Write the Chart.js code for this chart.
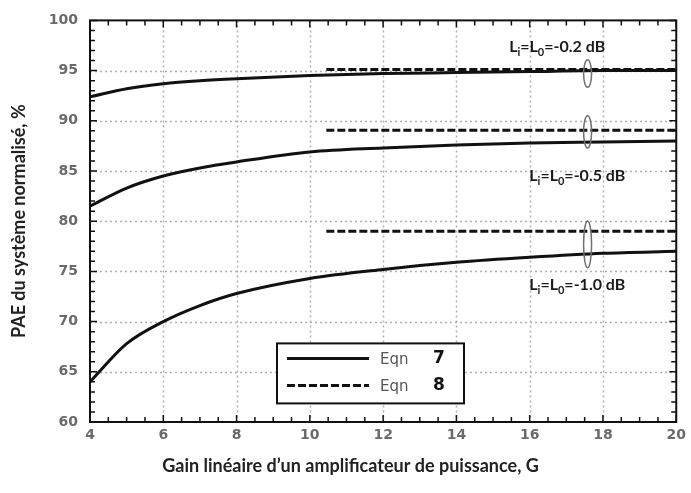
<!DOCTYPE html>
<html>
<head>
<meta charset="utf-8">
<script src="https://cdn.jsdelivr.net/npm/chart.js@4"></script>
<style>
  html, body { margin: 0; padding: 0; background: #fff; }
  #wrap { width: 691px; height: 493px; }
</style>
</head>
<body>
<div id="wrap"><canvas id="c"></canvas></div>
<script>
// ── Data ────────────────────────────────────────────────────────────
const G = [4, 5, 6, 7, 8, 10, 12, 14, 16, 18, 20];

// Eqn 7 (solid)
const eqn7_02 = [92.4, 93.2, 93.7, 94.0, 94.2, 94.5, 94.7, 94.8, 94.9, 95.0, 95.0];
const eqn7_05 = [81.5, 83.3, 84.5, 85.3, 85.9, 86.9, 87.3, 87.6, 87.8, 87.9, 88.0];
const eqn7_10 = [64.0, 67.8, 70.0, 71.6, 72.8, 74.3, 75.2, 75.9, 76.4, 76.8, 77.0];

// Eqn 8 (dashed, constant)
const G8 = [10.45, 20];
const eqn8_02 = [95.1, 95.1];
const eqn8_05 = [89.05, 89.05];
const eqn8_10 = [79.0, 79.0];

// Annotation labels
const LABEL_X = [16.75, 17.3, 17.3];
const LABEL_Y = [97.5, 84.6, 73.7];
const LABEL_TXT = ['-0.2 dB', '-0.5 dB', '-1.0 dB'];

// Ellipses grouping the pairs: centre G, centre PAE, half-height
const ELL_X = [17.58, 17.58, 17.58];
const ELL_Y = [94.7, 88.9, 77.7];
const ELL_H = [1.37, 1.6, 2.33];

const X_TICKS = [4, 6, 8, 10, 12, 14, 16, 18, 20];
const Y_TICKS = [60, 65, 70, 75, 80, 85, 90, 95, 100];

const X_TITLE = 'Gain linéaire d’un amplificateur de puissance, G';
const Y_TITLE = 'PAE du système normalisé, %';

// ── Style ───────────────────────────────────────────────────────────
const INK = '#111';
const GRID = '#b0b0b0';
const TICK_TXT = '#6a6a6a';
const TITLE_FONT = 'Lato, "Open Sans", sans-serif';
const TICK_FONT = '"DejaVu Sans", Verdana, sans-serif';
const DASH = [8, 3];

const pts = (xs, ys) => xs.map((x, i) => ({ x, y: ys[i] }));

function solid(data) {
  return { data, borderColor: INK, borderWidth: 3, pointRadius: 0, cubicInterpolationMode: 'monotone', fill: false };
}
function dashed(data) {
  return { data, borderColor: INK, borderWidth: 3, borderDash: DASH, pointRadius: 0, fill: false };
}

// ── Dotted grid (behind the curves) ─────────────────────────────────
const dottedGrid = {
  id: 'dottedGrid',
  beforeDatasetsDraw(chart) {
    const { ctx, chartArea: a, scales: { x, y } } = chart;
    ctx.save();
    ctx.strokeStyle = GRID;
    ctx.lineWidth = 1.5;
    ctx.setLineDash([2, 3]);
    ctx.beginPath();
    X_TICKS.slice(1, -1).forEach(v => {
      const px = Math.round(x.getPixelForValue(v)) + 0.5;
      ctx.moveTo(px, a.top); ctx.lineTo(px, a.bottom);
    });
    Y_TICKS.slice(1, -1).forEach(v => {
      const py = Math.round(y.getPixelForValue(v)) + 0.5;
      ctx.moveTo(a.left, py); ctx.lineTo(a.right, py);
    });
    ctx.stroke();
    ctx.restore();
  }
};

// ── Frame, minor ticks, annotations, legend, x title ────────────────
const decor = {
  id: 'decor',
  afterDatasetsDraw(chart) {
    const { ctx, chartArea: a, scales: { x, y } } = chart;
    ctx.save();

    // inner minor ticks on all four sides
    ctx.strokeStyle = INK;
    ctx.lineWidth = 1.5;
    ctx.beginPath();
    for (let v = 4; v <= 20.001; v += 0.5) {
      const px = x.getPixelForValue(v);
      const len = (v % 2 === 0) ? 7 : 5;
      ctx.moveTo(px, a.bottom); ctx.lineTo(px, a.bottom - len);
      ctx.moveTo(px, a.top); ctx.lineTo(px, a.top + len);
    }
    for (let v = 60; v <= 100; v += 1) {
      const py = y.getPixelForValue(v);
      const len = (v % 5 === 0) ? 7 : 5;
      ctx.moveTo(a.left, py); ctx.lineTo(a.left + len, py);
      ctx.moveTo(a.right, py); ctx.lineTo(a.right - len, py);
    }
    ctx.stroke();

    // frame
    ctx.lineWidth = 2;
    ctx.strokeRect(a.left, a.top, a.right - a.left, a.bottom - a.top);

    // ellipses
    ctx.strokeStyle = '#707070';
    ctx.lineWidth = 1.5;
    ELL_X.forEach((gx, i) => {
      const cx = x.getPixelForValue(gx);
      const cy = y.getPixelForValue(ELL_Y[i]);
      const ry = Math.abs(y.getPixelForValue(ELL_Y[i] + ELL_H[i]) - cy);
      ctx.beginPath();
      ctx.ellipse(cx, cy, 4, ry, 0, 0, Math.PI * 2);
      ctx.stroke();
    });

    // L_i = L_0 labels
    ctx.fillStyle = '#1a1a1a';
    ctx.textBaseline = 'alphabetic';
    ctx.textAlign = 'left';
    LABEL_X.forEach((gx, i) => {
      const big = 'bold 16px ' + TITLE_FONT;
      const small = 'bold 11px ' + TITLE_FONT;
      const parts = [['L', big, 0], ['i', small, 4], ['=L', big, 0], ['0', small, 4], ['=' + LABEL_TXT[i], big, 0]];
      let w = 0;
      parts.forEach(([t, f]) => { ctx.font = f; w += ctx.measureText(t).width; });
      let px = x.getPixelForValue(gx) - w / 2;
      const py = y.getPixelForValue(LABEL_Y[i]) + 6;
      parts.forEach(([t, f, dy]) => {
        ctx.font = f;
        ctx.fillText(t, px, py + dy);
        px += ctx.measureText(t).width;
      });
    });

    // legend box
    const lx = a.left + 187, ly = a.top + 323, lw = 187, lh = 60;
    ctx.fillStyle = '#fff';
    ctx.fillRect(lx, ly, lw, lh);
    ctx.strokeStyle = INK;
    ctx.lineWidth = 2;
    ctx.strokeRect(lx, ly, lw, lh);
    ctx.lineWidth = 3;
    ctx.setLineDash([]);
    ctx.beginPath(); ctx.moveTo(lx + 10, ly + 15); ctx.lineTo(lx + 92, ly + 15); ctx.stroke();
    ctx.setLineDash(DASH);
    ctx.beginPath(); ctx.moveTo(lx + 10, ly + 42); ctx.lineTo(lx + 92, ly + 42); ctx.stroke();
    ctx.setLineDash([]);
    ctx.textBaseline = 'middle';
    ['7', '8'].forEach((n, i) => {
      const ty = ly + 15 + i * 27;
      ctx.font = '15px ' + TICK_FONT;
      ctx.fillStyle = '#555';
      ctx.fillText('Eqn', lx + 103, ty + 2);
      ctx.font = 'bold 17px ' + TICK_FONT;
      ctx.fillStyle = '#111';
      ctx.fillText(n, lx + 156, ty);
    });

    // x axis title, centred on the page like the source figure
    ctx.font = 'bold 18px ' + TITLE_FONT;
    ctx.fillStyle = '#222';
    ctx.textAlign = 'center';
    ctx.textBaseline = 'middle';
    ctx.fillText(X_TITLE, chart.width / 2 + 5, a.bottom + 44);

    ctx.restore();
  }
};

new Chart(document.getElementById('c'), {
  type: 'line',
  data: {
    datasets: [
      solid(pts(G, eqn7_02)),
      solid(pts(G, eqn7_05)),
      solid(pts(G, eqn7_10)),
      dashed(pts(G8, eqn8_02)),
      dashed(pts(G8, eqn8_05)),
      dashed(pts(G8, eqn8_10)),
    ],
  },
  options: {
    responsive: true,
    maintainAspectRatio: false,
    animation: false,
    layout: { padding: { top: 17, right: 11, left: 0, bottom: 0 } },
    plugins: { legend: { display: false }, tooltip: { enabled: false } },
    scales: {
      x: {
        type: 'linear',
        min: 4, max: 20,
        afterBuildTicks: s => { s.ticks = X_TICKS.map(value => ({ value })); },
        afterFit: s => { s.height = 71; },
        grid: { display: false, drawTicks: false },
        border: { display: false },
        ticks: { padding: 5, color: TICK_TXT, font: { family: TICK_FONT, size: 14, weight: 'bold' } },
      },
      y: {
        min: 60, max: 100,
        afterBuildTicks: s => { s.ticks = Y_TICKS.map(value => ({ value })); },
        afterFit: s => { s.width = 90; },
        grid: { display: false, drawTicks: false },
        border: { display: false },
        ticks: { padding: 12, color: TICK_TXT, font: { family: TICK_FONT, size: 14, weight: 'bold' } },
        title: { display: true, text: Y_TITLE, color: '#222', padding: { top: 8, bottom: 0 }, font: { family: TITLE_FONT, size: 18, weight: 'bold' } },
      },
    },
  },
  plugins: [dottedGrid, decor],
});
</script>
</body>
</html>
